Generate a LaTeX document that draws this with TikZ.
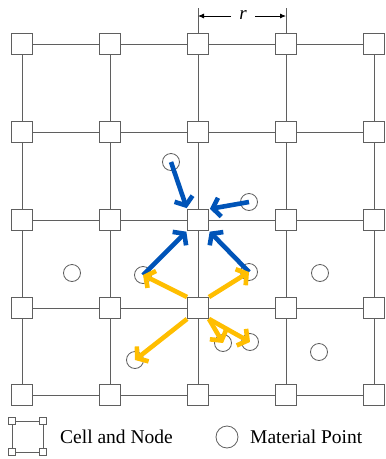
\documentclass[tikz,border=0pt]{standalone}
\usepackage{fontspec}
\setmainfont{Liberation Serif}
\usetikzlibrary{arrows.meta}
\definecolor{mpblue}{RGB}{0,84,184}
\definecolor{mpgold}{RGB}{255,190,0}
\definecolor{gridgray}{RGB}{95,95,95}
\tikzset{
  gridnode/.style={draw=gridgray, fill=white, line width=0.9pt, minimum size=21pt, inner sep=0pt},
  smallnode/.style={draw=gridgray, fill=white, line width=0.8pt, minimum size=7.5pt, inner sep=0pt},
  matpt/.style={draw=gridgray, circle, line width=0.8pt, minimum size=17pt, inner sep=0pt},
  gridline/.style={draw=gridgray, line width=0.8pt},
  bluearrow/.style={draw=mpblue, line width=4.6pt, -{Straight Barb[length=7pt,width=19pt]}, shorten >=1pt},
  goldarrow/.style={draw=mpgold, line width=4.6pt, -{Straight Barb[length=7pt,width=19pt]}},
  dimarrow/.style={draw=black, line width=0.8pt, -{Latex[length=6pt,width=5pt]}},
  lbl/.style={font=\fontsize{19.5}{22}\selectfont, inner sep=0pt, anchor=base west}
}
\begin{document}
\begin{tikzpicture}[x=1pt,y=-1pt]
\useasboundingbox (0,0) rectangle (386,459);
% grid lines (drawn under the nodes)
\foreach \i/\x in {1/22,2/110,3/198,4/286,5/374}{
  \foreach \j/\y in {1/44,2/132,3/220,4/308,5/395}{
    \coordinate (c\i\j) at (\x,\y);
  }
}
\foreach \j in {1,...,5}{
  \draw[gridline] (c1\j) -- (c5\j);
  \draw[gridline] (c\j1) -- (c\j5);
}
% dimension r
\coordinate (d1) at (198,8);
\coordinate (d2) at (286,8);
\draw[gridline] (d1) -- (c31);
\draw[gridline] (d2) -- (c41);
\node[font=\fontsize{19}{22}\selectfont\itshape, inner sep=1pt] (r) at (243,15) {r};
\coordinate (ra) at (198,16);
\coordinate (rb) at (286,16);
\draw[dimarrow] (231,16) -- (ra);
\draw[dimarrow] (255,16) -- (rb);
% nodes
\foreach \i in {1,...,5}{
  \foreach \j in {1,...,5}{
    \node[gridnode] (n\i\j) at (c\i\j) {};
  }
}
% material points
\node[matpt] (m1) at (171,162) {};
\node[matpt] (m2) at (249,202) {};
\node[matpt] (m3) at (72,273) {};
\node[matpt] (m4) at (143,275) {};
\node[matpt] (m5) at (249,272) {};
\node[matpt] (m6) at (320,273) {};
\node[matpt] (m7) at (223,343) {};
\node[matpt] (m8) at (250,342) {};
\node[matpt] (m9) at (319,352) {};
\node[matpt] (m10) at (135,360) {};
% blue arrows: material points to node
\draw[bluearrow] (m1.center) -- (n33.north west);
\draw[bluearrow] (m2.center) -- (n33.north east);
\draw[bluearrow] (m4.center) -- (n33.south west);
\draw[bluearrow] (m5.center) -- (n33.south east);
% gold arrows: node to material points
\draw[goldarrow] (n34.north west) -- (m4.center);
\draw[goldarrow] (n34.north east) -- (m5.center);
\draw[goldarrow] (n34.south west) -- (m10.center);
\draw[goldarrow] (n34.south east) -- (m7.center);
\draw[goldarrow] (n34.south east) -- (m8.center);
% legend
\coordinate (la) at (12,421);
\coordinate (lb) at (43,421);
\coordinate (lc) at (43,452);
\coordinate (ld) at (12,452);
\draw[gridline] (la) -- (lb) -- (lc) -- (ld) -- cycle;
\node[smallnode] (s1) at (la) {};
\node[smallnode] (s2) at (lb) {};
\node[smallnode] (s3) at (lc) {};
\node[smallnode] (s4) at (ld) {};
\node[lbl] (t1) at (60,443) {Cell and Node};
\node[matpt, minimum size=22pt] (lm) at (227,437) {};
\node[lbl] (t2) at (250,443) {Material Point};
\end{tikzpicture}
\end{document}
